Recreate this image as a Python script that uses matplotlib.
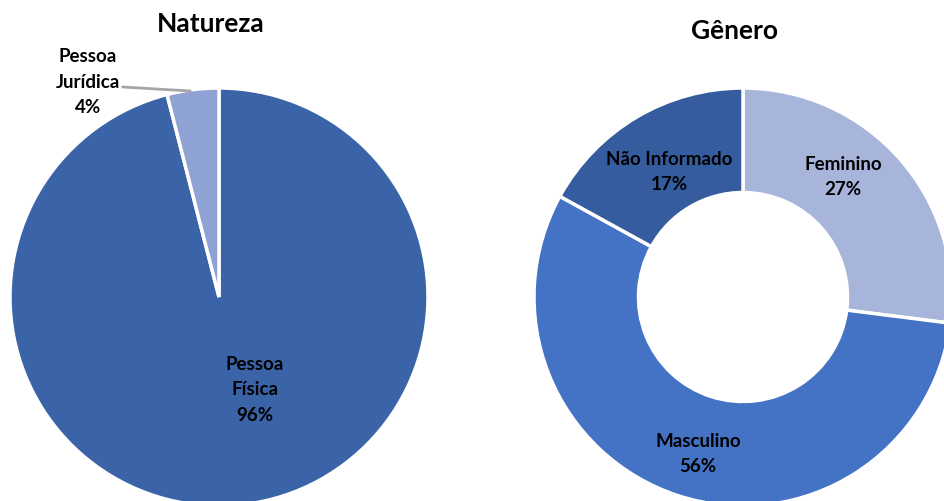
import numpy as np
import matplotlib.pyplot as plt

plt.rcParams['font.family'] = ['Lato', 'DejaVu Sans']

# Natureza
nat_labels = ['Pessoa\nFísica', 'Pessoa\nJurídica']
nat_values = [96, 4]
nat_colors = ['#3A63A8', '#8FA2D4']

# Gênero
gen_labels = ['Feminino', 'Masculino', 'Não Informado']
gen_values = [27, 56, 17]
gen_colors = ['#A7B5DA', '#4472C4', '#345C9E']

W, H = 944, 502
fig = plt.figure(figsize=(W / 100, H / 100), dpi=100)
ax = fig.add_axes([0, 0, 1, 1])

R = 209
c1 = (219, H - 298)
c2 = (743, H - 298)

ax.pie(nat_values, colors=nat_colors, startangle=90, counterclock=False,
       center=c1, radius=R, wedgeprops=dict(edgecolor='white', linewidth=2.5))
ax.pie(gen_values, colors=gen_colors, startangle=90, counterclock=False,
       center=c2, radius=R,
       wedgeprops=dict(width=R * 0.5, edgecolor='white', linewidth=2.5))

ax.set_xlim(0, W)
ax.set_ylim(0, H)
ax.set_aspect('equal')
ax.axis('off')

lbl = dict(ha='center', va='center', fontsize=13.5, fontweight='bold',
           color='black', linespacing=1.6)

# Natureza labels
ax.text(255, H - 390, f'{nat_labels[0]}\n{nat_values[0]}%', **lbl)
ax.text(88, H - 82, f'{nat_labels[1]}\n{nat_values[1]}%', **lbl)
ax.plot([123, 190], [H - 88, H - 92], color='#A6A6A6', lw=2)

# Gênero labels
ax.text(843, H - 177, f'{gen_labels[0]}\n{gen_values[0]}%', **lbl)
ax.text(698, H - 454, f'{gen_labels[1]}\n{gen_values[1]}%', **lbl)
ax.text(669, H - 172, f'{gen_labels[2]}\n{gen_values[2]}%', **lbl)

ax.text(211, H - 24, 'Natureza', ha='center', va='center', fontsize=19,
        fontweight='bold')
ax.text(735, H - 31, 'Gênero', ha='center', va='center', fontsize=19,
        fontweight='bold')

fig.savefig('out.png', dpi=100)
